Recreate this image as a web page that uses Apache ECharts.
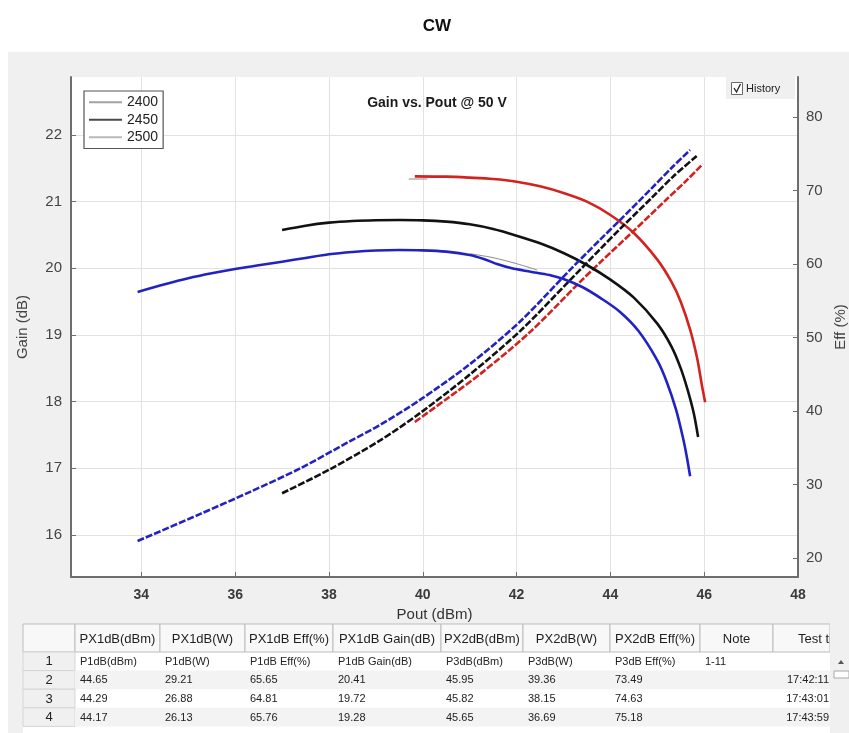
<!DOCTYPE html>
<html><head><meta charset="utf-8">
<script src="https://cdn.jsdelivr.net/npm/echarts@6/dist/echarts.min.js"></script>
<style>html,body{margin:0;padding:0;background:#fff}#c{width:849px;height:733px}</style>
</head><body><div id="c"></div><script>
// ---------------- data ----------------
const freqs = ['2400', '2450', '2500'];
const xTicks = [34, 36, 38, 40, 42, 44, 46, 48];
const gainTicks = [16, 17, 18, 19, 20, 21, 22];
const effTicks = [20, 30, 40, 50, 60, 70, 80];

// Gain (dB) vs Pout (dBm)
const gain2400 = [[39.83,21.38],[40.5,21.375],[41.0,21.36],[41.5,21.34],[42.0,21.30],[42.5,21.23],[43.0,21.13],[43.5,21.0],[44.0,20.80],[44.5,20.53],[45.0,20.13],[45.3,19.8],[45.5,19.5],[45.7,19.08],[45.85,18.65],[45.95,18.25],[46.02,17.99]];
const gain2450 = [[37.0,20.575],[37.5,20.64],[38.0,20.685],[38.5,20.71],[39.0,20.722],[39.5,20.725],[40.0,20.72],[40.5,20.70],[41.0,20.66],[41.5,20.59],[42.0,20.49],[42.5,20.375],[43.0,20.23],[43.5,20.05],[44.0,19.83],[44.5,19.56],[45.0,19.17],[45.3,18.83],[45.5,18.5],[45.65,18.17],[45.78,17.82],[45.87,17.47]];
const gain2500 = [[33.92,19.645],[34.5,19.76],[35.0,19.85],[35.5,19.925],[36.0,19.99],[36.5,20.045],[37.0,20.1],[37.5,20.155],[38.0,20.21],[38.5,20.245],[39.0,20.268],[39.5,20.275],[40.0,20.27],[40.5,20.25],[41.0,20.2],[41.3,20.14],[41.6,20.06],[41.9,20.0],[42.3,19.95],[42.7,19.9],[43.0,19.84],[43.4,19.72],[43.8,19.55],[44.2,19.35],[44.6,19.06],[45.0,18.62],[45.2,18.3],[45.4,17.88],[45.55,17.45],[45.63,17.17],[45.7,16.88]];

// Eff (%) vs Pout (dBm)
const eff2400 = [[39.83,38.5],[40.5,41.6],[41.22,45.0],[42.28,50.7],[43.36,57.6],[43.78,60.2],[44.48,64.4],[45.2,68.8],[45.63,71.4],[45.97,73.6]];
const eff2450 = [[37.0,28.8],[38.03,32.1],[39.09,36.0],[39.94,39.7],[41.01,45.0],[42.08,50.9],[43.14,57.8],[43.78,62.0],[44.21,64.8],[44.85,68.8],[45.34,71.9],[45.84,74.7]];
const eff2500 = [[33.92,22.3],[35.26,26.0],[36.32,29.0],[37.39,32.2],[38.45,35.9],[39.09,38.1],[39.94,41.5],[41.01,46.4],[42.08,52.2],[43.14,59.2],[43.78,63.3],[44.21,66.0],[44.85,70.1],[45.34,73.3],[45.70,75.5]];

// faint history traces
const histGainA = [[41.0,20.22],[41.5,20.16],[42.0,20.07],[42.44,19.975]];
const histGainB = [[39.7,21.34],[40.1,21.34]];

// table
const tableHeader = ['', 'PX1dB(dBm)', 'PX1dB(W)', 'PX1dB Eff(%)', 'PX1dB Gain(dB)', 'PX2dB(dBm)', 'PX2dB(W)', 'PX2dB Eff(%)', 'Note', 'Test time'];
const tableRows = [
  ['1', 'P1dB(dBm)', 'P1dB(W)', 'P1dB Eff(%)', 'P1dB Gain(dB)', 'P3dB(dBm)', 'P3dB(W)', 'P3dB Eff(%)', '1-11', ''],
  ['2', '44.65', '29.21', '65.65', '20.41', '45.95', '39.36', '73.49', '', '17:42:11'],
  ['3', '44.29', '26.88', '64.81', '19.72', '45.82', '38.15', '74.63', '', '17:43:01'],
  ['4', '44.17', '26.13', '65.76', '19.28', '45.65', '36.69', '75.18', '', '17:43:59']
];

// ---------------- chart ----------------
const F = '"Liberation Sans", Arial, sans-serif';
const colors = {'2400': '#d2231f', '2450': '#121212', '2500': '#2222c4'};
const legendColors = {'2400': '#a2a2a2', '2450': '#4a4a4a', '2500': '#b8b8b8'};
const gainData = {'2400': gain2400, '2450': gain2450, '2500': gain2500};
const effData = {'2400': eff2400, '2450': eff2450, '2500': eff2500};

const series = [];
series.push({name: 'history', type: 'line', data: histGainA, smooth: 0.3, symbol: 'none', lineStyle: {color: '#8a8a8a', width: 1}, z: 2, silent: true});
series.push({name: 'history', type: 'line', data: histGainB, symbol: 'none', lineStyle: {color: '#8a8a8a', width: 1}, z: 2, silent: true});
freqs.forEach(f => {
  series.push({name: f, type: 'line', yAxisIndex: 0, data: gainData[f], smooth: 0.3, symbol: 'none',
    lineStyle: {color: colors[f], width: 2.6}, itemStyle: {color: colors[f]}, z: 3});
  series.push({name: f, type: 'line', yAxisIndex: 1, data: effData[f], smooth: 0.3, symbol: 'none',
    lineStyle: {color: colors[f], width: 2.6, type: [7, 2]}, itemStyle: {color: colors[f]}, z: 3});
});

// table graphics
const colX = [23, 75, 160, 245, 333, 441, 523, 610, 700, 773, 830];
const headY = 624, headH = 28, rowH = 18.6;
const g = [];
g.push({type: 'rect', shape: {x: 8, y: 52, width: 841, height: 681}, style: {fill: '#f0f0f0'}, z: -100});
g.push({type: 'rect', shape: {x: 23, y: headY, width: 807, height: 733 - headY}, style: {fill: '#ffffff'}, z: 10});
tableHeader.forEach((t, i) => {
  const x0 = colX[i], x1 = colX[i + 1];
  g.push({type: 'rect', shape: {x: x0, y: headY, width: x1 - x0, height: headH}, style: {fill: '#f8f8f8', stroke: '#bdbdbd', lineWidth: 1}, z: 11});
  if (t) g.push({type: 'text', x: (i === 9 ? x0 + 25 : (x0 + x1) / 2), y: headY + headH / 2 + 1,
    style: {text: t, fill: '#1e1e1e', font: '13px ' + F, align: i === 9 ? 'left' : 'center', verticalAlign: 'middle'}, z: 12});
});
tableRows.forEach((row, r) => {
  const y0 = headY + headH + r * rowH;
  g.push({type: 'rect', shape: {x: colX[0], y: y0, width: colX[1] - colX[0], height: rowH}, style: {fill: '#f0f0f0', stroke: '#d6d6d6', lineWidth: 1}, z: 11});
  if (r % 2 === 1) g.push({type: 'rect', shape: {x: colX[1], y: y0, width: colX[10] - colX[1], height: rowH}, style: {fill: '#f3f3f3'}, z: 11});
  row.forEach((t, i) => {
    if (!t) return;
    let x, align;
    if (i === 0) { x = (colX[0] + colX[1]) / 2; align = 'center'; }
    else if (i === 9) { x = colX[10] - 1; align = 'right'; }
    else { x = colX[i] + 5; align = 'left'; }
    g.push({type: 'text', x: x, y: y0 + rowH / 2 + 0.5,
      style: {text: t, fill: '#222', font: (i === 0 ? '13px ' : '11px ') + F, align: align, verticalAlign: 'middle'}, z: 12});
  });
});
// scrollbar area (covers clipped header text)
g.push({type: 'rect', shape: {x: 830, y: headY, width: 19, height: 733 - headY}, style: {fill: '#f0f0f0'}, z: 13});
g.push({type: 'polygon', shape: {points: [[838, 664], [841, 660], [844, 664]]}, style: {fill: '#555'}, z: 14});
g.push({type: 'rect', shape: {x: 834, y: 671, width: 15, height: 7}, style: {fill: '#fdfdfd', stroke: '#a8a8a8', lineWidth: 1}, z: 14});
// History checkbox
g.push({type: 'rect', shape: {x: 726, y: 77, width: 69, height: 22}, style: {fill: '#f0f0f0'}, z: 20});
g.push({type: 'rect', shape: {x: 731.5, y: 82.5, width: 11, height: 12}, style: {fill: '#fff', stroke: '#6a6a6a', lineWidth: 1}, z: 21});
g.push({type: 'polyline', shape: {points: [[734, 88], [736.5, 92], [740.5, 84]]}, style: {stroke: '#222', lineWidth: 1.3, fill: null}, z: 22});
g.push({type: 'text', x: 746, y: 89, style: {text: 'History', fill: '#222', font: '11px ' + F, verticalAlign: 'middle'}, z: 21});

const option = {
  backgroundColor: 'transparent',
  animation: false,
  textStyle: {fontFamily: F},
  title: [
    {text: 'CW', left: 432, top: 13, textAlign: 'center', textStyle: {fontSize: 17, fontWeight: 'bold', color: '#111', fontFamily: F}},
    {text: 'Gain vs. Pout @ 50 V', left: 432, top: 91, textAlign: 'center', textStyle: {fontSize: 14, fontWeight: 'bold', color: '#1a1a1a', fontFamily: F}}
  ],
  legend: {
    orient: 'vertical', left: 84, top: 91, padding: [4, 5, 4, 5], itemGap: 3, itemWidth: 33, itemHeight: 2,
    icon: 'rect', borderColor: '#555', borderWidth: 1.2, backgroundColor: '#fff', selectedMode: false,
    textStyle: {fontSize: 14, color: '#222', fontFamily: F, lineHeight: 14.5},
    data: freqs.map(f => ({name: f, itemStyle: {color: legendColors[f]}, lineStyle: {color: legendColors[f]}}))
  },
  grid: {left: 71, right: 51, top: 77, bottom: 156, show: true, backgroundColor: '#ffffff', borderWidth: 0,
    containLabel: false, outerBoundsMode: 'none'},
  xAxis: {
    type: 'value', min: 32.5, max: 48,
    name: 'Pout (dBm)', nameLocation: 'middle', nameGap: 19,
    nameTextStyle: {fontSize: 15, color: '#333', fontFamily: F},
    axisLine: {show: true, lineStyle: {color: '#6e6e6e', width: 2}},
    axisTick: {show: true, inside: true, length: 5, customValues: xTicks, lineStyle: {color: '#6e6e6e', width: 1}},
    axisLabel: {customValues: xTicks, fontSize: 14, fontWeight: 'bold', color: '#3a3a3a', margin: 11, fontFamily: F, showMaxLabel: true, showMinLabel: true},
    splitLine: {show: true, lineStyle: {color: '#e2e2e2', width: 1}}
  },
  yAxis: [
    {
      type: 'value', position: 'left', min: 15.37, max: 22.87,
      name: 'Gain (dB)', nameLocation: 'middle', nameGap: 41, nameRotate: 90,
      nameTextStyle: {fontSize: 15, color: '#444', fontFamily: F},
      axisLine: {show: true, lineStyle: {color: '#6e6e6e', width: 2}},
      axisTick: {show: true, inside: true, length: 5, customValues: gainTicks, lineStyle: {color: '#6e6e6e'}},
      axisLabel: {customValues: gainTicks, fontSize: 15, color: '#444', margin: 9, fontFamily: F},
      splitLine: {show: true, lineStyle: {color: '#e2e2e2', width: 1}}
    },
    {
      type: 'value', position: 'right', min: 17.41, max: 85.44,
      name: 'Eff (%)', nameLocation: 'middle', nameGap: 30, nameRotate: 90,
      nameTextStyle: {fontSize: 15, color: '#444', fontFamily: F},
      axisLine: {show: true, lineStyle: {color: '#6e6e6e', width: 2}},
      axisTick: {show: true, inside: true, length: 5, customValues: effTicks, lineStyle: {color: '#6e6e6e'}},
      axisLabel: {customValues: effTicks, fontSize: 15, color: '#444', margin: 8, fontFamily: F},
      splitLine: {show: false}
    }
  ],
  series: series,
  graphic: {elements: g}
};
const chart = echarts.init(document.getElementById('c'));
chart.setOption(option);
</script></body></html>
